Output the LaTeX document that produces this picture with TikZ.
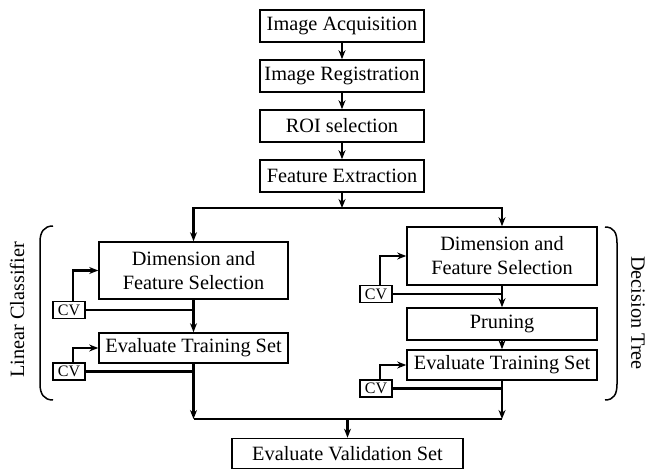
\documentclass[tikz,border=0pt]{standalone}
\usepackage{fontspec}
\setmainfont{Liberation Serif}
\usetikzlibrary{arrows.meta}
\begin{document}
\begin{tikzpicture}[x=1pt,y=-1pt,>={Stealth[length=9pt,width=7pt]},
  font=\fontsize{20.3}{24}\selectfont,
  box/.style={draw,line width=1.6pt,inner sep=0pt,align=center,minimum height=32pt},
  cvbox/.style={draw,line width=1.6pt,inner sep=0pt,minimum width=32pt,minimum height=17pt,font=\fontsize{16}{18}\selectfont},
  flow/.style={line width=2.2pt}]
\useasboundingbox (0,0) rectangle (647,470);
% main chain
\node[box,minimum width=164pt] (acq) at (342,26) {Image Acquisition};
\node[box,minimum width=164pt] (reg) at (342,76) {Image Registration};
\node[box,minimum width=164pt] (roi) at (342,126) {ROI selection};
\node[box,minimum width=164pt] (fe) at (342,176) {Feature Extraction};
\foreach \a/\b in {acq/reg,reg/roi,roi/fe}{\draw[flow,->] (\a) -- (\b);}
% linear classifier branch
\node[box,minimum width=189pt,minimum height=57pt] (ldim) at (193.5,270.5) {Dimension and\\Feature Selection};
\node[box,minimum width=189pt,minimum height=30pt] (leval) at (193.5,348) {Evaluate Training Set};
\node[cvbox] (lcva) at (69,310) {CV};
\node[cvbox] (lcvb) at (69,371.5) {CV};
% decision tree branch
\node[box,minimum width=190pt,minimum height=58pt] (rdim) at (502,256) {Dimension and\\Feature Selection};
\node[box,minimum width=190pt] (prune) at (502,324) {Pruning};
\node[box,minimum width=190pt,minimum height=30pt] (reval) at (502,365) {Evaluate Training Set};
\node[cvbox] (rcva) at (376,294) {CV};
\node[cvbox] (rcvb) at (376,388.5) {CV};
% final
\node[box,minimum width=231pt,minimum height=30pt] (val) at (347.5,453.5) {Evaluate Validation Set};
% split and merge
\coordinate (split) at (342,208);
\coordinate (merge) at (347.5,419);
\draw[flow,->] (fe) -- (split);
\draw[flow,->] (split) -| (ldim);
\draw[flow,->] (split) -| (rdim);
\draw[flow,->] ([xshift=4pt]lcva.north) |- (ldim);
\draw[flow] (lcva.east) -- (lcva.east -| ldim.south);
\draw[flow,->] (ldim) -- (leval);
\draw[flow,->] ([xshift=4pt]lcvb.north) |- (leval);
\draw[flow] (lcvb.east) -- (lcvb.east -| leval.south);
\draw[flow,->] (leval.south) -- (leval.south |- merge);
\draw[flow,->] ([xshift=4pt]rcva.north) |- (rdim);
\draw[flow] (rcva.east) -- (rcva.east -| rdim.south);
\draw[flow,->] (rdim) -- (prune);
\draw[flow,->] (prune) -- (reval);
\draw[flow,->] ([xshift=4pt]rcvb.north) |- (reval);
\draw[flow] (rcvb.east) -- (rcvb.east -| reval.south);
\draw[flow,->] (reval.south) -- (reval.south |- merge);
\draw[flow] (leval.south |- merge) -- (reval.south |- merge);
\draw[flow,->] (merge) -- (val);
% brackets and labels
\draw[line width=1.5pt] (53,226) .. controls (44,226) and (40,232) .. (40,242) -- (40,384) .. controls (40,394) and (44,400) .. (53,400);
\draw[line width=1.5pt] (605,227) .. controls (614,227) and (617,233) .. (617,243) -- (617,384) .. controls (617,394) and (614,400) .. (605,400);
\node[rotate=90] (lclab) at (17,310) {Linear Classifier};
\node[rotate=-90] (dtlab) at (638,313) {Decision Tree};
\end{tikzpicture}
\end{document}
